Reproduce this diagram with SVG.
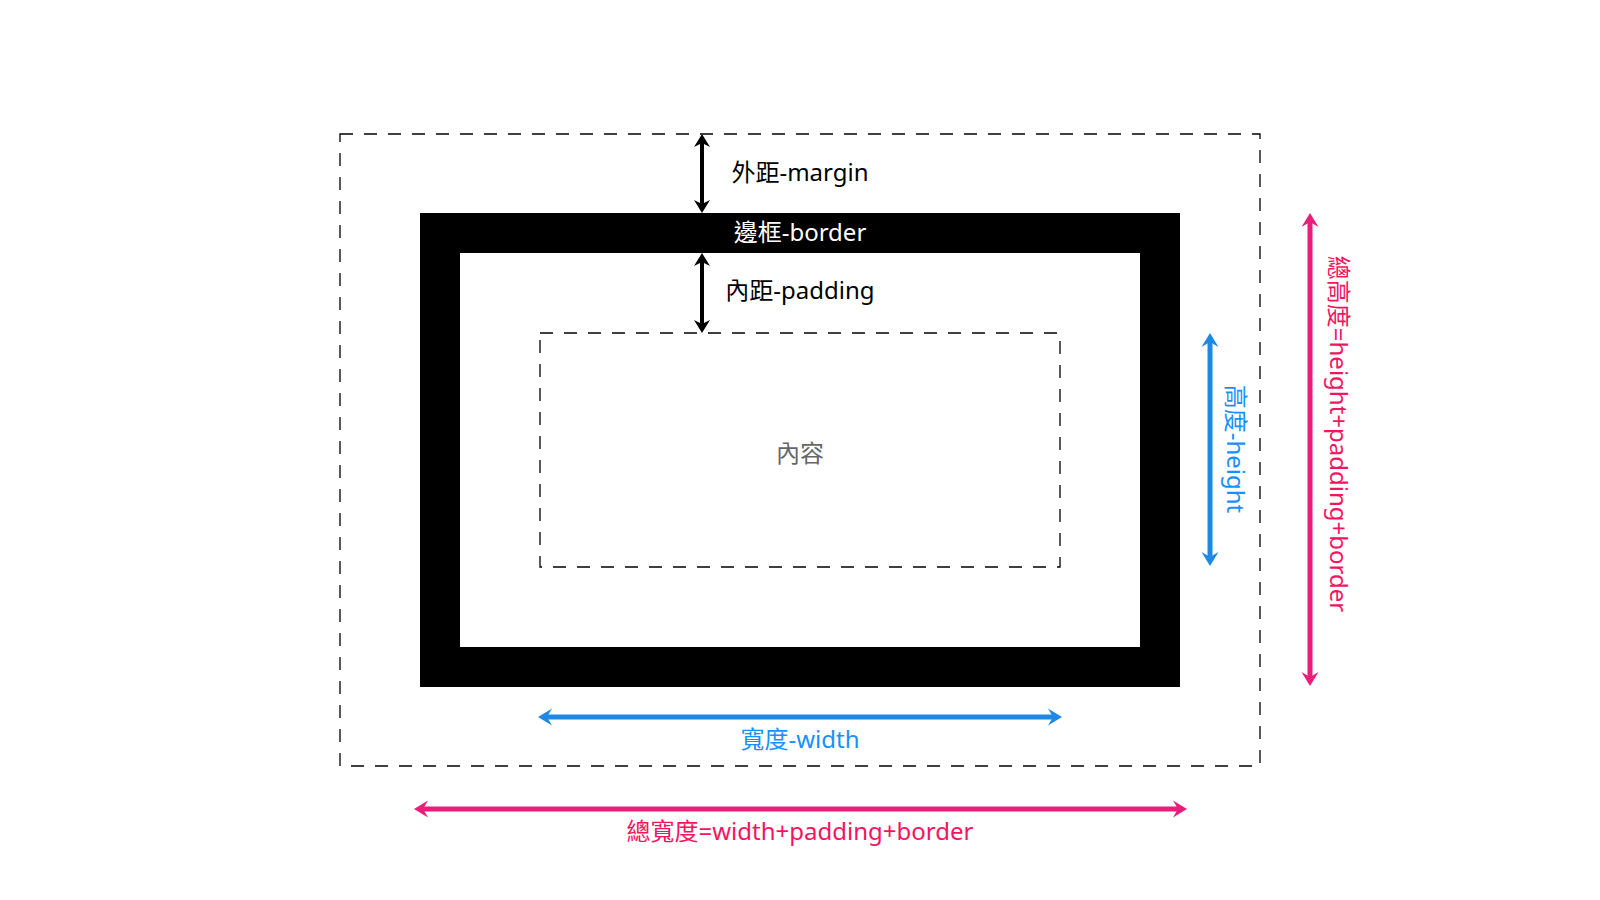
<svg xmlns="http://www.w3.org/2000/svg" width="1600" height="900" viewBox="0 0 1600 900">
<style>
  text { font-family: "Noto Sans", "Noto Sans CJK TC", sans-serif; font-size: 24px; text-anchor: middle; }
  .dash { fill: none; stroke: #000; stroke-width: 1.3; stroke-dasharray: 13 11; }
  .blk { stroke: #000; stroke-width: 4; fill: none; }
  .blu { stroke: #1e88e5; stroke-width: 5; fill: none; }
  .pnk { stroke: #e91e7a; stroke-width: 5; fill: none; }
  .tb { fill: #1890ff; }
  .tp { fill: #f5145f; }
</style>
<defs>
  <marker id="mk" viewBox="-16 -10 20 20" refX="-8" refY="0" markerWidth="20" markerHeight="20" markerUnits="userSpaceOnUse" orient="auto-start-reverse">
    <path d="M0,0 L-13,-8 L-9,0 L-13,8 Z" fill="#000"/>
  </marker>
  <marker id="mb" viewBox="-16 -10 20 20" refX="-8" refY="0" markerWidth="20" markerHeight="20" markerUnits="userSpaceOnUse" orient="auto-start-reverse">
    <path d="M0,0 L-14,-8.5 L-9,0 L-14,8.5 Z" fill="#1e88e5"/>
  </marker>
  <marker id="mp" viewBox="-16 -10 20 20" refX="-8" refY="0" markerWidth="20" markerHeight="20" markerUnits="userSpaceOnUse" orient="auto-start-reverse">
    <path d="M0,0 L-14,-8.5 L-9,0 L-14,8.5 Z" fill="#e91e7a"/>
  </marker>
</defs>
<rect width="1600" height="900" fill="#fff"/>

<g id="margin-box">
  <rect class="dash" x="340" y="134" width="920" height="632"/>
</g>
<g id="border-box">
  <rect x="420" y="213" width="760" height="474" fill="#000"/>
  <rect x="460" y="253" width="680" height="394" fill="#fff"/>
  <text x="800" y="241" fill="#fff">邊框-border</text>
</g>
<g id="content-box">
  <rect class="dash" x="540" y="333" width="520" height="234"/>
  <text x="800" y="462" fill="#666">內容</text>
</g>

<g id="connectors">
  <line class="blk" x1="702" y1="142" x2="702" y2="205" marker-start="url(#mk)" marker-end="url(#mk)"/>
  <line class="blk" x1="702" y1="261" x2="702" y2="325" marker-start="url(#mk)" marker-end="url(#mk)"/>
  <line class="blu" x1="546" y1="717" x2="1054" y2="717" marker-start="url(#mb)" marker-end="url(#mb)"/>
  <line class="blu" x1="1210" y1="341" x2="1210" y2="558" marker-start="url(#mb)" marker-end="url(#mb)"/>
  <line class="pnk" x1="422" y1="809" x2="1179" y2="809" marker-start="url(#mp)" marker-end="url(#mp)"/>
  <line class="pnk" x1="1310" y1="221" x2="1310" y2="678" marker-start="url(#mp)" marker-end="url(#mp)"/>
</g>

<g id="labels">
  <text x="800" y="181" fill="#000">外距-margin</text>
  <text x="800" y="299" fill="#000">內距-padding</text>
  <text class="tb" x="800" y="748">寬度-width</text>
  <text class="tb" transform="translate(1227,449) rotate(90)">高度-height</text>
  <text class="tp" x="800" y="840">總寬度=width+padding+border</text>
  <text class="tp" transform="translate(1330,434) rotate(90)">總高度=height+padding+border</text>
</g>
</svg>
